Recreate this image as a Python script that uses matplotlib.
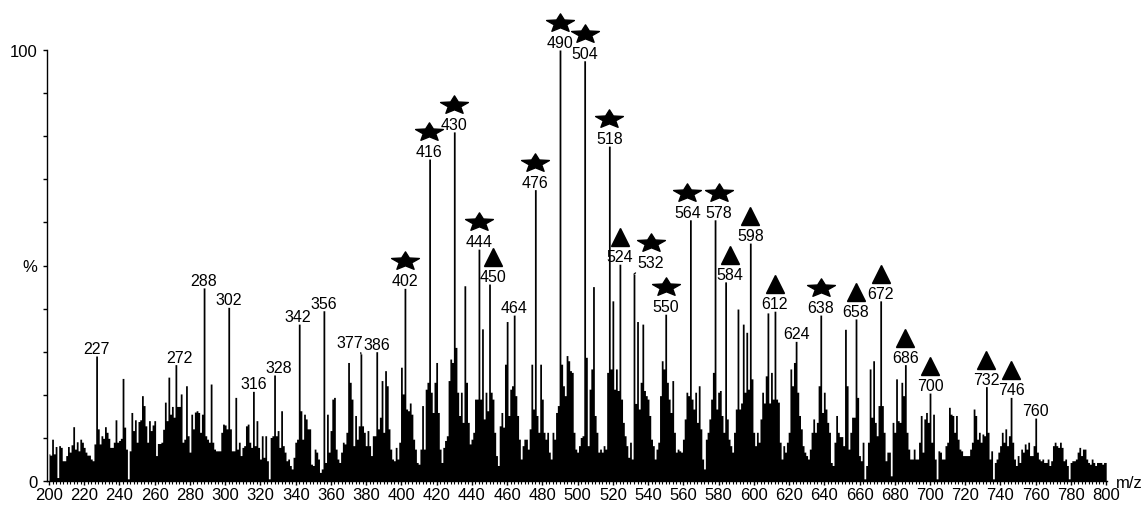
import numpy as np
import matplotlib
matplotlib.use("Agg")
import matplotlib.pyplot as plt
from matplotlib.path import Path
from matplotlib.transforms import ScaledTranslation
from matplotlib.ticker import MultipleLocator

plt.rcParams['font.family'] = ['Liberation Sans', 'DejaVu Sans']

# relative intensity (%) for every integer m/z from 200 to 800
mz = np.arange(200, 801)
intensity = [
    6.3, 6.0, 9.7, 6.3, 8.0, 0.8, 8.2, 7.8, 4.7, 4.7,          # 200
    5.9, 8.0, 6.7, 8.4, 12.6, 7.4, 9.1, 7.0, 9.7, 9.0,         # 210
    7.8, 6.7, 6.0, 6.0, 5.1, 4.7, 8.6, 29.0, 12.1, 8.6,        # 220
    10.5, 9.9, 12.6, 11.3, 9.9, 7.8, 7.8, 9.0, 14.2, 9.0,      # 230
    9.4, 9.9, 23.8, 12.5, 7.4, 0.5, 7.0, 15.9, 11.7, 14.2,     # 240
    9.0, 13.8, 14.2, 19.8, 17.5, 12.8, 9.0, 14.0, 11.7, 13.0,  # 250
    14.0, 5.9, 8.7, 8.7, 9.0, 12.0, 18.3, 14.0, 24.1, 15.5,    # 260
    17.3, 14.8, 27.0, 17.3, 17.3, 20.2, 9.0, 9.7, 22.1, 10.5,  # 270
    6.7, 15.5, 12.1, 16.0, 16.3, 15.9, 11.3, 15.5, 44.8, 10.5, # 280
    9.7, 9.0, 22.5, 9.0, 7.4, 7.0, 7.0, 7.0, 11.3, 13.2,       # 290
    13.0, 12.1, 40.3, 12.1, 7.0, 7.0, 19.4, 7.4, 9.0, 5.9,     # 300
    7.8, 8.2, 12.8, 13.2, 9.0, 7.8, 20.8, 8.2, 14.0, 7.8,      # 310
    5.1, 10.5, 5.5, 10.5, 4.7, 0.5, 10.1, 10.5, 24.6, 10.5,    # 320
    11.7, 7.8, 16.3, 8.2, 6.7, 4.7, 5.1, 3.6, 2.8, 5.5,        # 330
    9.0, 9.7, 36.4, 16.3, 9.7, 15.5, 14.4, 12.1, 12.1, 3.9,    # 340
    3.6, 7.4, 6.7, 5.1, 2.0, 2.8, 39.5, 4.3, 15.5, 6.7,        # 350
    11.7, 19.0, 19.4, 7.4, 5.1, 4.3, 6.7, 9.0, 8.6, 11.3,      # 360
    27.5, 22.9, 19.0, 8.2, 15.2, 9.7, 12.8, 29.5, 12.8, 11.3,  # 370
    8.2, 11.7, 8.2, 5.9, 10.5, 10.5, 30.0, 12.1, 14.8, 23.3,   # 380
    11.3, 25.6, 22.1, 12.1, 7.4, 5.1, 4.7, 7.8, 5.1, 9.0,      # 390
    26.4, 20.2, 44.7, 16.7, 16.3, 18.1, 15.5, 9.7, 7.4, 4.3,   # 400
    3.9, 7.4, 17.5, 7.4, 21.3, 22.9, 74.7, 20.6, 15.9, 22.9,   # 410
    27.5, 15.9, 7.4, 4.3, 7.8, 9.4, 10.5, 23.3, 28.3, 27.5,    # 420
    81.0, 31.0, 20.6, 15.2, 20.6, 13.6, 45.3, 22.9, 13.6, 8.6, # 430
    9.7, 11.3, 19.0, 19.0, 53.8, 19.0, 35.3, 14.4, 20.6, 16.3, # 440
    45.7, 20.6, 19.0, 11.3, 5.9, 3.6, 12.8, 15.9, 12.5, 27.1,  # 450
    37.0, 15.2, 21.3, 22.1, 38.5, 19.8, 15.2, 9.7, 5.1, 8.2,   # 460
    9.7, 9.7, 7.4, 12.1, 27.1, 16.7, 67.6, 15.2, 11.3, 27.1,   # 470
    19.0, 11.3, 9.7, 11.3, 6.7, 5.1, 11.3, 9.7, 15.9, 17.5,    # 480
    100.0, 27.1, 22.1, 19.8, 29.1, 27.9, 25.6, 25.2, 11.3, 7.4,  # 490
    6.7, 8.2, 10.1, 10.5, 97.5, 28.7, 8.2, 21.3, 26.0, 45.1,   # 500
    15.2, 11.3, 6.7, 7.4, 6.7, 8.2, 7.4, 25.2, 77.7, 26.0,     # 510
    41.8, 21.3, 26.0, 21.0, 50.3, 19.0, 13.6, 10.5, 8.2, 5.5,  # 520
    9.0, 5.1, 48.0, 18.0, 37.0, 16.7, 22.9, 36.4, 21.0, 19.8,  # 530
    19.0, 15.2, 9.7, 8.2, 5.1, 7.4, 9.0, 19.8, 27.9, 26.0,     # 540
    38.7, 22.9, 19.0, 15.9, 23.3, 11.3, 6.7, 7.4, 7.0, 6.7,    # 550
    9.7, 14.4, 20.6, 19.8, 60.6, 19.0, 16.7, 20.6, 13.6, 22.1, # 560
    12.1, 5.1, 2.8, 9.7, 11.3, 14.4, 19.0, 25.2, 60.6, 16.7,   # 570
    20.6, 21.0, 15.2, 11.3, 46.2, 14.4, 9.7, 8.2, 6.7, 11.3,   # 580
    16.7, 39.9, 16.7, 18.1, 36.4, 20.6, 34.5, 21.3, 55.2, 23.7,  # 590
    11.3, 8.2, 11.3, 9.0, 14.4, 20.6, 18.1, 24.4, 39.0, 18.1,  # 600
    25.2, 19.0, 39.4, 19.0, 18.3, 9.0, 5.1, 8.2, 6.7, 9.0,     # 610
    11.3, 26.0, 22.1, 27.5, 32.4, 20.6, 15.2, 12.1, 8.2, 6.7,  # 620
    5.9, 5.1, 7.4, 11.3, 14.4, 11.3, 13.6, 22.1, 38.5, 15.9,   # 630
    20.6, 16.7, 13.6, 11.3, 4.3, 3.6, 9.0, 15.2, 11.3, 10.3,   # 640
    10.3, 8.2, 35.2, 22.1, 7.4, 11.3, 14.8, 14.8, 37.6, 19.4,  # 650
    5.9, 4.7, 9.0, 0.5, 3.6, 9.0, 26.0, 14.8, 27.9, 13.6,      # 660
    10.5, 17.5, 41.8, 17.5, 11.3, 4.7, 6.7, 6.7, 1.2, 13.6,    # 670
    11.3, 23.7, 14.0, 13.6, 22.9, 19.8, 27.0, 11.3, 7.4, 5.1,  # 680
    5.1, 7.4, 5.1, 5.1, 9.0, 15.2, 6.7, 14.4, 15.9, 13.6,      # 690
    20.4, 9.0, 15.5, 5.1, 0.5, 7.0, 6.7, 5.1, 5.1, 8.2,        # 700
    9.0, 17.1, 15.5, 15.2, 11.3, 15.2, 9.7, 7.4, 7.0, 5.9,     # 710
    5.9, 5.9, 5.9, 7.4, 9.0, 16.7, 15.2, 9.7, 11.3, 9.0,       # 720
    10.9, 10.5, 21.9, 11.3, 5.1, 7.0, 0.5, 4.3, 5.1, 6.7,      # 730
    8.2, 11.3, 9.0, 12.1, 8.2, 10.5, 19.4, 9.0, 5.1, 3.6,      # 740
    5.9, 4.3, 7.4, 6.7, 8.6, 7.4, 9.0, 5.9, 5.9, 8.2,          # 750
    14.6, 6.7, 5.1, 4.7, 5.1, 4.3, 4.3, 5.1, 3.6, 4.7,         # 760
    8.2, 9.0, 8.2, 7.8, 9.0, 7.8, 4.7, 5.1, 3.6, 0.5,          # 770
    4.3, 4.7, 4.7, 5.1, 6.7, 7.8, 5.9, 7.4, 7.4, 5.1,          # 780
    4.3, 3.9, 5.1, 4.3, 3.6, 4.3, 4.3, 4.3, 3.9, 4.3,          # 790
    4.3,                                                       # 800
]
intensity = np.array(intensity)

# labelled peaks and their series markers
label_mz = [227, 272, 288, 302, 316, 328, 342, 356, 377, 386, 402, 416, 430,
            444, 450, 464, 476, 490, 504, 518, 524, 532, 550, 564, 578, 584,
            598, 612, 624, 638, 658, 672, 686, 700, 732, 746, 760]
star_mz = [402, 416, 430, 444, 476, 490, 504, 518, 532, 550, 564, 578, 638]
triangle_mz = [450, 524, 584, 598, 612, 658, 672, 686, 700, 732, 746]

# horizontal label nudges in pixels (crowded spots)
nudge = {272: 4, 328: 4, 342: -1, 377: -11, 416: -1, 450: 3, 532: 17,
         564: -3, 578: 4, 584: 4}
leader = {377: (0.9, 0.0), 532: (0.05, 0.0)}

# squat five-point star, wider than tall
star = Path.unit_regular_star(5, 0.45)
star_path = Path(star.vertices * [1.0, 0.66], star.codes)

fig = plt.figure(figsize=(11.42, 5.06), dpi=100)
ax = fig.add_axes([47 / 1142, 24 / 506, 1060 / 1142, 431 / 506])

ax.fill_between(mz, intensity, 0, step='mid', color='black', linewidth=0)

ax.set_xlim(198.86, 800.45)
ax.set_ylim(0, 100)

for s in ['top', 'right']:
    ax.spines[s].set_visible(False)
for s in ['left', 'bottom']:
    ax.spines[s].set_linewidth(1.0)

ax.set_xticks(np.arange(200, 801, 20))
ax.xaxis.set_minor_locator(MultipleLocator(2))
ax.set_yticks([0, 50, 100])
ax.set_yticklabels(['0', '%', '100'])
ax.yaxis.set_minor_locator(MultipleLocator(10))
ax.tick_params(axis='x', which='major', length=3, width=1.0, pad=1.5, labelsize=12)
ax.tick_params(axis='x', which='minor', length=2, width=0.8)
ax.tick_params(axis='y', which='both', length=3, width=1.0, pad=4, labelsize=12)

fig.text(1129 / 1142, 1 - 484 / 506, 'm/z', ha='center', va='center', fontsize=12)

px = 1.0 / fig.dpi
height = dict(zip(mz, intensity))

for m in label_mz:
    h = height[m]
    dx = nudge.get(m, 0)
    if m in leader:
        ax.annotate(str(m), xy=(m, h), xytext=(dx, 7), textcoords='offset pixels',
                    ha='center', va='baseline', fontsize=11.5,
                    arrowprops=dict(arrowstyle='-', lw=0.9, color='black',
                                    shrinkA=0, shrinkB=0, relpos=leader[m]))
    else:
        ax.annotate(str(m), xy=(m, h), xytext=(dx, 3), textcoords='offset pixels',
                    ha='center', va='baseline', fontsize=11.5)

def marker_at(m, shape, size, dy):
    dx = nudge.get(m, 0)
    off = ScaledTranslation(dx * px, dy * px, fig.dpi_scale_trans)
    ax.plot([m], [height[m]], marker=shape, markersize=size, color='black',
            linestyle='none', clip_on=False, transform=ax.transData + off)

for m in star_mz:
    marker_at(m, star_path, 20, 31 if m in leader else 27)
for m in triangle_mz:
    marker_at(m, '^', 13, 27)

fig.savefig('out.png', dpi=100)
